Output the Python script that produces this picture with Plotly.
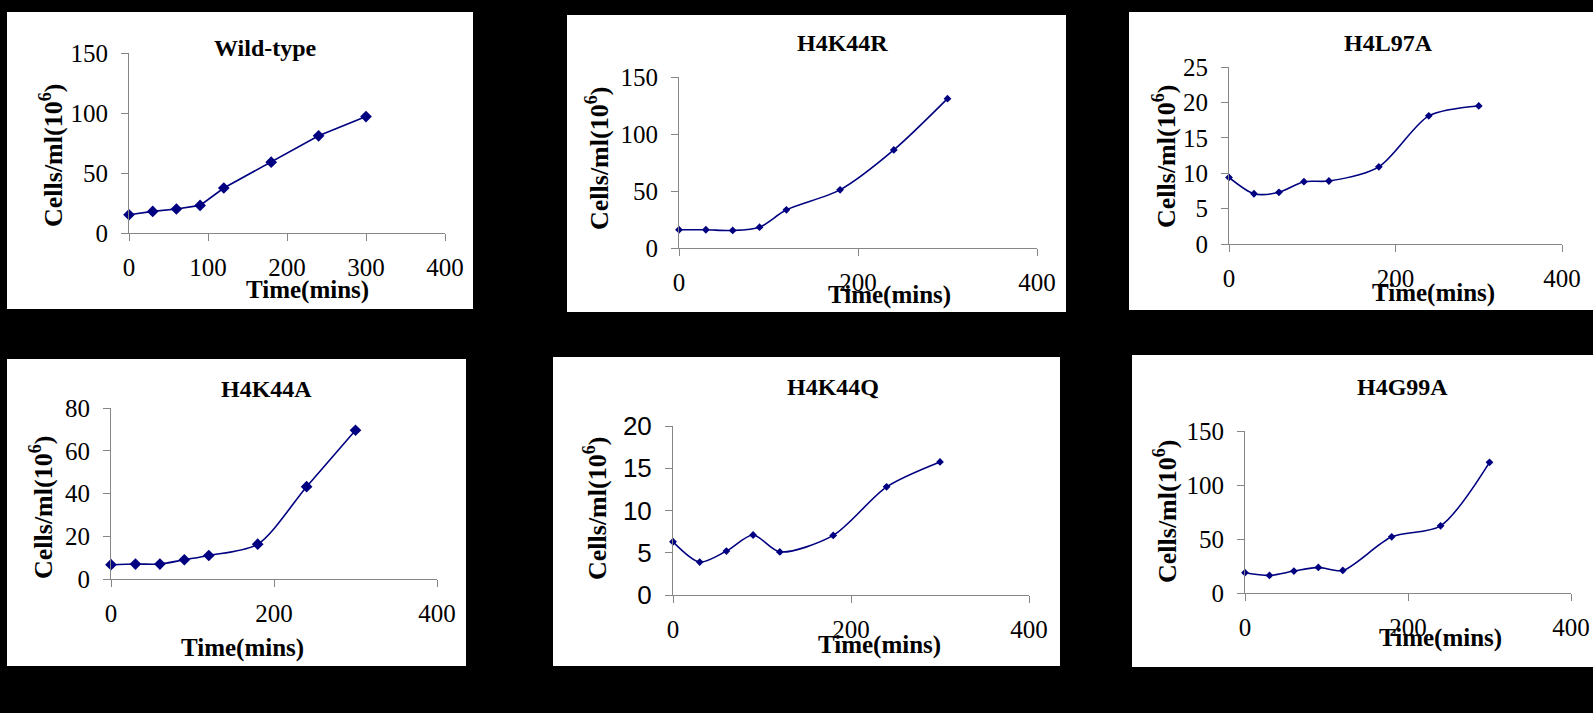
import plotly.graph_objects as go

W, H = 1593, 713

time_mins = [0, 30, 60, 90, 120, 180, 240, 300]

titles = ["Wild-type", "H4K44R", "H4L97A", "H4K44A", "H4K44Q", "H4G99A"]
wild_type = [15.2, 18, 20, 23, 37.5, 59, 81, 97]
h4k44r = [16, 16, 15.4, 18.3, 33.5, 51, 86, 131]
h4l97a = [9.4, 7.1, 7.3, 8.8, 8.9, 10.9, 18.1, 19.5]
h4k44a = [6.7, 7, 7, 9, 11, 16.3, 43.2, 69.6]
h4k44q = [6.3, 3.9, 5.2, 7.1, 5.1, 7.05, 12.8, 15.75]
h4g99a = [18.8, 16.3, 20.3, 23.7, 20.9, 52, 62.2, 121]
series = [wild_type, h4k44r, h4l97a, h4k44a, h4k44q, h4g99a]

y_max = [150, 150, 25, 80, 20, 150]
y_dtick = [50, 50, 5, 20, 5, 50]
x_dtick = [100, 200, 200, 200, 200, 200]
x_title = "Time(mins)"
y_title = "Cells/ml(10<sup>6</sup>)"

# layout geometry (pixels)
panels = [(7, 12, 473, 309), (567, 15, 1066, 312), (1129, 12, 1593, 310),
          (7, 359, 466, 666), (553, 357, 1060, 666), (1132, 355, 1593, 667)]
plot_px = [(129, 445, 53, 233), (679, 1037, 77, 248), (1229, 1562, 67, 244),
           (111, 437, 408, 579), (673, 1029, 426, 595), (1245, 1571, 431, 593)]
title_pos = [(265, 48), (842, 43), (1388, 43), (266, 389), (833, 387), (1402, 387)]
ytitle_pos = [(51, 156), (598, 159), (1164, 157), (41, 508), (595, 509), (1165, 512)]
xtitle_pos = [(307, 290), (889, 295), (1433, 293), (242, 648), (879, 645), (1440, 638)]
marker_size = [9, 6, 6, 9, 6, 6]
line_shape = ["linear", "spline", "spline", "spline", "spline", "spline"]

SERIF = "Liberation Serif, Times New Roman, Times, serif"
SANS = "Liberation Sans, Arial, sans-serif"
NAVY = "#000080"
AXC = "#868686"

def px_x(v):
    return v / W

def px_y(v):
    return 1 - v / H

fig = go.Figure()
shapes, annotations = [], []
layout = dict(width=W, height=H, autosize=False,
              margin=dict(l=0, r=0, t=0, b=0, pad=0, autoexpand=False),
              paper_bgcolor="black", plot_bgcolor="white", showlegend=False,
              font=dict(family=SERIF, color="black"))

for i in range(6):
    sfx = "" if i == 0 else str(i + 1)
    fig.add_trace(go.Scatter(
        x=time_mins, y=series[i], mode="lines+markers",
        line=dict(color=NAVY, width=1.6, shape=line_shape[i], smoothing=0.8),
        marker=dict(symbol="diamond", size=marker_size[i], color=NAVY),
        xaxis="x" + sfx, yaxis="y" + sfx, cliponaxis=False, name=titles[i]))
    x0, x1, yt, yb = plot_px[i]
    ytick_font = dict(family=SANS if i == 4 else SERIF, size=26 if i == 4 else 25, color="black")
    layout["xaxis" + sfx] = dict(
        domain=[px_x(x0), px_x(x1)], anchor="y" + sfx, range=[0, 400], dtick=x_dtick[i],
        tick0=0, showgrid=False, zeroline=False, showline=True, linecolor=AXC, linewidth=1,
        ticks="outside", ticklen=7, tickcolor=AXC, tickwidth=1, automargin=False,
        tickfont=dict(family=SERIF, size=25, color="black"), ticklabelstandoff=5)
    layout["yaxis" + sfx] = dict(
        domain=[px_y(yb), px_y(yt)], anchor="x" + sfx, range=[0, y_max[i]], dtick=y_dtick[i],
        tick0=0, showgrid=False, zeroline=False, showline=True, linecolor=AXC, linewidth=1,
        ticks="outside", ticklen=7, tickcolor=AXC, tickwidth=1, automargin=False,
        tickfont=ytick_font, ticklabelstandoff=8)
    px0, py0, px1, py1 = panels[i]
    shapes.append(dict(type="rect", xref="paper", yref="paper", layer="below",
                       x0=px_x(px0), x1=px_x(px1), y0=px_y(py1), y1=px_y(py0),
                       fillcolor="white", line=dict(width=0)))
    tx, ty = title_pos[i]
    annotations.append(dict(text="<b>%s</b>" % titles[i], x=px_x(tx), y=px_y(ty),
                            xref="paper", yref="paper", showarrow=False,
                            xanchor="center", yanchor="middle",
                            font=dict(family=SERIF, size=24, color="black")))
    ax, ay = ytitle_pos[i]
    annotations.append(dict(text="<b>%s</b>" % y_title, x=px_x(ax), y=px_y(ay),
                            xref="paper", yref="paper", showarrow=False, textangle=-90,
                            xanchor="center", yanchor="middle",
                            font=dict(family=SERIF, size=26, color="black")))
    bx, by = xtitle_pos[i]
    annotations.append(dict(text="<b>%s</b>" % x_title, x=px_x(bx), y=px_y(by),
                            xref="paper", yref="paper", showarrow=False,
                            xanchor="center", yanchor="middle",
                            font=dict(family=SERIF, size=25, color="black")))

layout["shapes"] = shapes
layout["annotations"] = annotations
fig.update_layout(**layout)
fig.write_html("out.html", config={"responsive": False, "displayModeBar": False},
               post_script="document.body.style.margin='0';document.body.style.overflow='hidden';")
